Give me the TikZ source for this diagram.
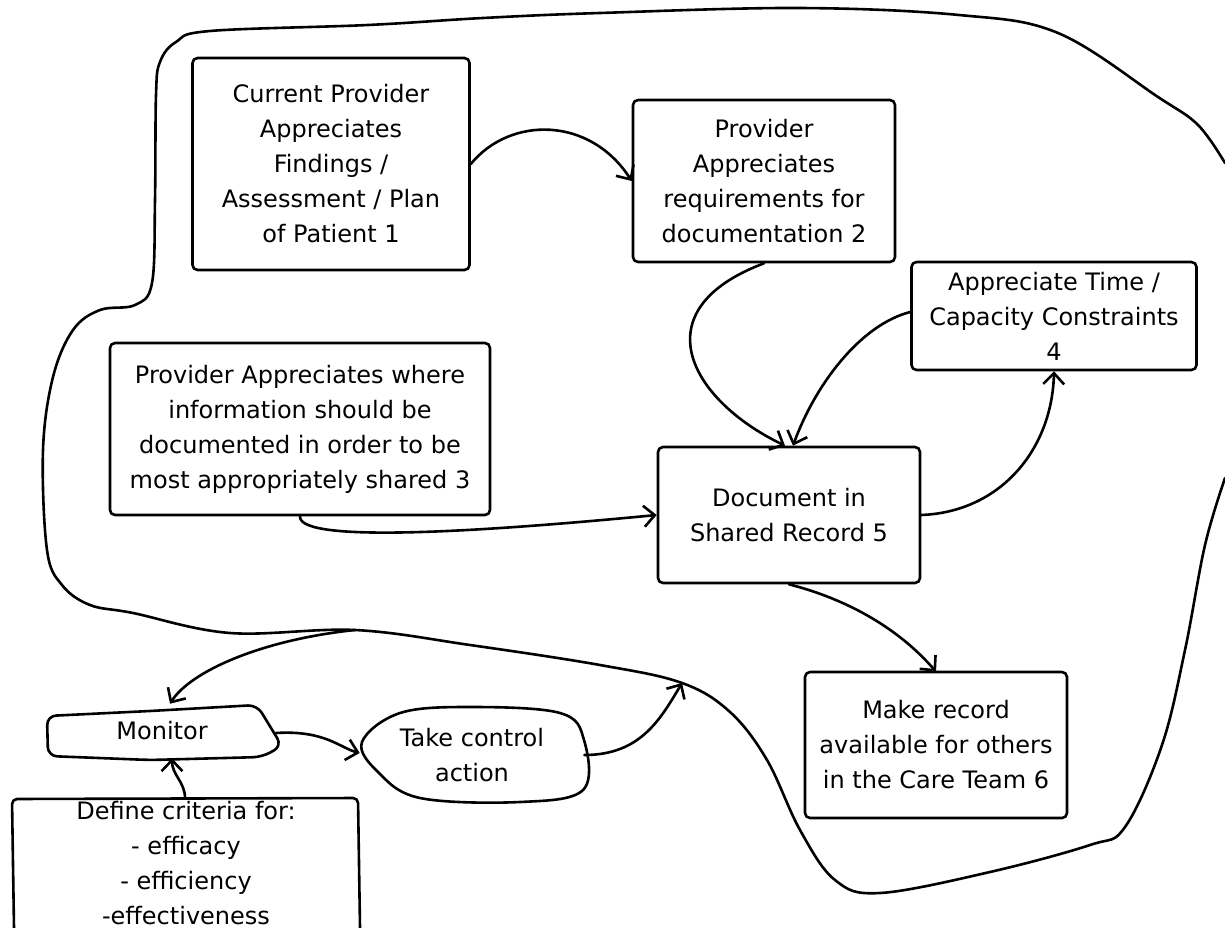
\documentclass[tikz,border=0pt]{standalone}
\usepackage{fontspec}
\setmainfont{DejaVu Sans}
\usetikzlibrary{arrows.meta}

\begin{document}
\begin{tikzpicture}[x=1pt,y=-1pt,line width=2.6pt,line join=round,line cap=round,
  every node/.style={font=\fontsize{24pt}{35pt}\selectfont,align=center,inner sep=0pt},
  card/.style={draw,rounded corners=5pt},
  flow/.style={-{Straight Barb[length=11pt,width=21pt,line width=2.6pt]}}]
  \useasboundingbox (0,0) rectangle (1225,928);
  \node[card,minimum width=277pt,minimum height=212pt] (find) at (331,164)
    {Current Provider\\Appreciates\\Findings /\\Assessment / Plan\\of Patient 1};
  \node[card,minimum width=262pt,minimum height=162pt] (reqs) at (764,181)
    {Provider\\Appreciates\\requirements for\\documentation 2};
  \node[card,minimum width=285pt,minimum height=108pt] (time) at (1054,316)
    {Appreciate Time /\\Capacity Constraints\\4};
  \node[card,minimum width=380pt,minimum height=172pt] (where) at (300,429)
    {Provider Appreciates where\\information should be\\documented in order to be\\most appropriately shared 3};
  \node[card,minimum width=262pt,minimum height=136pt] (doc) at (789,515)
    {Document in\\Shared Record 5};
  \node[card,minimum width=262pt,minimum height=146pt] (avail) at (936,745)
    {Make record\\available for others\\in the Care Team 6};
  \node[minimum width=235pt,minimum height=52pt] (mon) at (162,731) {Monitor};
  \node[minimum width=222pt,minimum height=92pt] (act) at (472,755) {Take control\\action};
  \node[minimum width=348pt] (crit) at (186,863)
    {Define criteria for:\\- efficacy\\- efficiency\\-effectiveness};
  \draw[rounded corners=9pt] (47,716) -- (150,711) -- (257,705) -- (282,746)
    -- (262,757) -- (150,760) -- (48,756) -- cycle;
  \draw plot[smooth cycle,tension=0.6] coordinates {(362,742) (400,713) (470,707) (560,713)
    (584,740) (583,790) (520,802) (420,798) (378,772)};
  \draw[rounded corners=5pt] (14,928) -- (12,799) -- (358,798) -- (360,928);
  \coordinate (crittop) at (185,798);
  \coordinate (loopin) at (355,630);
  \coordinate (loopout) at (682,683);
  \draw plot[smooth,tension=0.6] coordinates {(1225,478) (1205,545) (1185,650) (1162,745)
    (1125,827) (1090,845) (990,872) (880,893) (835,880) (800,830) (767,760) (730,712)
    (682,683) (600,665) (470,645) (355,630) (230,633) (133,613) (90,605) (62,585) (47,550)
    (43,450) (53,377) (73,330) (100,310) (135,305) (152,283) (155,200) (156,95) (160,62)
    (176,42) (210,31) (368,25) (483,18) (600,13) (799,8) (959,15) (1058,33) (1158,97)
    (1198,125) (1225,163)};
  \draw[flow] (find.east) .. controls (510,116) and (590,116) .. (reqs.west);
  \draw[flow] (reqs.south) .. controls (640,310) and (690,400) .. ([xshift=-4pt]doc.north);
  \draw[flow] ([yshift=4pt]time.west) .. controls (860,325) and (815,385) .. ([xshift=4pt]doc.north);
  \draw[flow] (doc.east) .. controls (1000,512) and (1052,450) .. (time.south);
  \draw[flow] (where.south) .. controls (298,545) and (500,530) .. (doc.west);
  \draw[flow] (doc.south) .. controls (850,600) and (900,630) .. ([yshift=-1pt]avail.north);
  \draw[flow] (loopin) .. controls (260,640) and (190,672) .. ([xshift=8pt]mon.north);
  \draw[flow] (crittop) .. controls (185,782) and (172,775) .. ([xshift=10pt]mon.south);
  \draw[flow] (276,733) .. controls (325,730) and (340,748) .. ([yshift=2pt]act.west);
  \draw[flow] (act.east) .. controls (640,755) and (660,720) .. (loopout);
\end{tikzpicture}
\end{document}
